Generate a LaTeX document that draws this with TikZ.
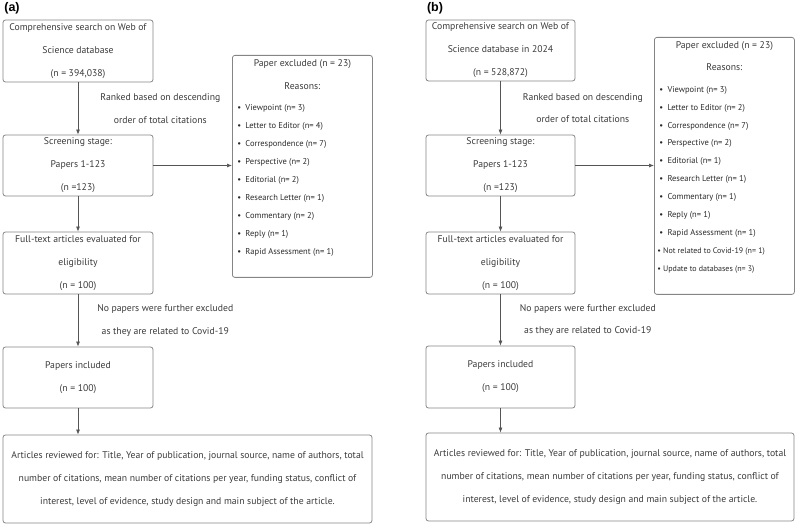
\documentclass[tikz,border=0pt]{standalone}
\usepackage{fontspec}
\setmainfont{PT Sans}
\newfontfamily\labelfont{Liberation Sans}
\usetikzlibrary{arrows.meta}
\definecolor{txt}{HTML}{3A3A3A}
\definecolor{itm}{HTML}{2A2A2A}
\definecolor{bord}{HTML}{858585}
\definecolor{arr}{HTML}{555555}
\begin{document}
\begin{tikzpicture}[x=1pt,y=-1pt,
  every node/.style={text=txt},
  flowbox/.style={draw=bord, line width=0.8pt, rounded corners=2.5pt, align=center, inner sep=0pt, font=\fontsize{9.7}{23}\selectfont},
  exbox/.style={draw=bord, line width=0.8pt, rounded corners=2.5pt, anchor=north west, inner sep=0pt},
  flowarrow/.style={draw=arr, line width=0.7pt, -{Latex[length=5pt,width=4pt]}},
  edgelabel/.style={align=center, font=\fontsize{9.7}{22.5}\selectfont, inner sep=0pt, anchor=west},
  panellabel/.style={font=\labelfont\bfseries\fontsize{12.5}{14}\selectfont, text=black, inner sep=0pt}]
\useasboundingbox (0,0) rectangle (800,526);

% ---------------- panel (a)
\node[panellabel] (la) at (12,8) {(a)};
\node[flowbox, minimum width=150pt, minimum height=62pt] (a1) at (78,51) {Comprehensive search on Web of\\Science database\\(n = 394,038)};
\node[flowbox, minimum width=150pt, minimum height=61pt] (a2) at (78,165.5) {Screening stage:\\Papers 1-123\\(n =123)};
\node[flowbox, minimum width=150pt, minimum height=62pt] (a3) at (78,263) {Full-text articles evaluated for\\eligibility\\(n = 100)};
\node[flowbox, minimum width=150pt, minimum height=61pt] (a4) at (78,377.5) {Papers included\\(n = 100)};
\node[flowbox, minimum width=369pt, minimum height=88pt] (a5) at (187.5,479) {Articles reviewed for: Title, Year of publication, journal source, name of authors, total\\number of citations, mean number of citations per year, funding status, conflict of\\interest, level of evidence, study design and main subject of the article.};
\node[exbox] (ax) at (232,55) {\parbox[t][222pt][t]{140pt}{\parindent=0pt
\vspace*{4pt}
{\centering\fontsize{9.7}{23}\selectfont Paper excluded (n = 23)\\Reasons:\par}
\vspace{3pt}
{\raggedright\leftskip=5pt\fontsize{8.5}{18}\selectfont\color{itm}
\textbullet\enspace Viewpoint (n= 3)\\
\textbullet\enspace Letter to Editor (n= 4)\\
\textbullet\enspace Correspondence (n= 7)\\
\textbullet\enspace Perspective (n= 2)\\
\textbullet\enspace Editorial (n= 2)\\
\textbullet\enspace Research Letter (n= 1)\\
\textbullet\enspace Commentary (n= 2)\\
\textbullet\enspace Reply (n= 1)\\
\textbullet\enspace Rapid Assessment (n= 1)\par}}};

\draw[flowarrow] (a1) -- node[edgelabel, xshift=22pt] {Ranked based on descending\\order of total citations} (a2);
\draw[flowarrow] (a2.east) -- (a2.east -| ax.west);
\draw[flowarrow] (a2) -- (a3);
\draw[flowarrow] (a3) -- node[edgelabel, xshift=19pt] {No papers were further excluded\\as they are related to Covid-19} (a4);
\draw[flowarrow] (a4) -- (a4 |- a5.north);

% ---------------- panel (b)
\node[panellabel] (lb) at (435,8) {(b)};
\node[flowbox, minimum width=149pt, minimum height=61pt] (b1) at (500.5,50.5) {Comprehensive search on Web of\\Science database in 2024\\(n = 528,872)};
\node[flowbox, minimum width=149pt, minimum height=61pt] (b2) at (500.5,165.5) {Screening stage:\\Papers 1-123\\(n =123)};
\node[flowbox, minimum width=149pt, minimum height=62pt] (b3) at (500.5,263) {Full-text articles evaluated for\\eligibility\\(n = 100)};
\node[flowbox, minimum width=149pt, minimum height=62pt] (b4) at (500.5,377) {Papers included\\(n = 100)};
\node[flowbox, minimum width=368pt, minimum height=88pt] (b5) at (610,477) {Articles reviewed for: Title, Year of publication, journal source, name of authors, total\\number of citations, mean number of citations per year, funding status, conflict of\\interest, level of evidence, study design and main subject of the article.};
\node[exbox] (bx) at (654,37) {\parbox[t][257pt][t]{140pt}{\parindent=0pt
\vspace*{4pt}
{\centering\fontsize{9.7}{22}\selectfont Paper excluded (n = 23)\\Reasons:\par}
\vspace{4pt}
{\raggedright\leftskip=5pt\fontsize{8.5}{17.9}\selectfont\color{itm}
\textbullet\enspace Viewpoint (n= 3)\\
\textbullet\enspace Letter to Editor (n= 2)\\
\textbullet\enspace Correspondence (n= 7)\\
\textbullet\enspace Perspective (n= 2)\\
\textbullet\enspace Editorial (n= 1)\\
\textbullet\enspace Research Letter (n= 1)\\
\textbullet\enspace Commentary (n= 1)\\
\textbullet\enspace Reply (n= 1)\\
\textbullet\enspace Rapid Assessment (n= 1)\\
{\fontsize{8}{17.9}\selectfont\hspace*{-2pt}\textbullet\ Not related to Covid-19 (n= 1)}\\
{\fontsize{8}{17.9}\selectfont\hspace*{-2pt}\textbullet\ Update to databases (n= 3)}\par}}};

\draw[flowarrow] (b1) -- node[edgelabel, xshift=22pt] {Ranked based on descending\\order of total citations} (b2);
\draw[flowarrow] (b2.east) -- (b2.east -| bx.west);
\draw[flowarrow] (b2) -- (b3);
\draw[flowarrow] (b3) -- node[edgelabel, xshift=19pt] {No papers were further excluded\\as they are related to Covid-19} (b4);
\draw[flowarrow] (b4) -- (b4 |- b5.north);
\end{tikzpicture}
\end{document}
